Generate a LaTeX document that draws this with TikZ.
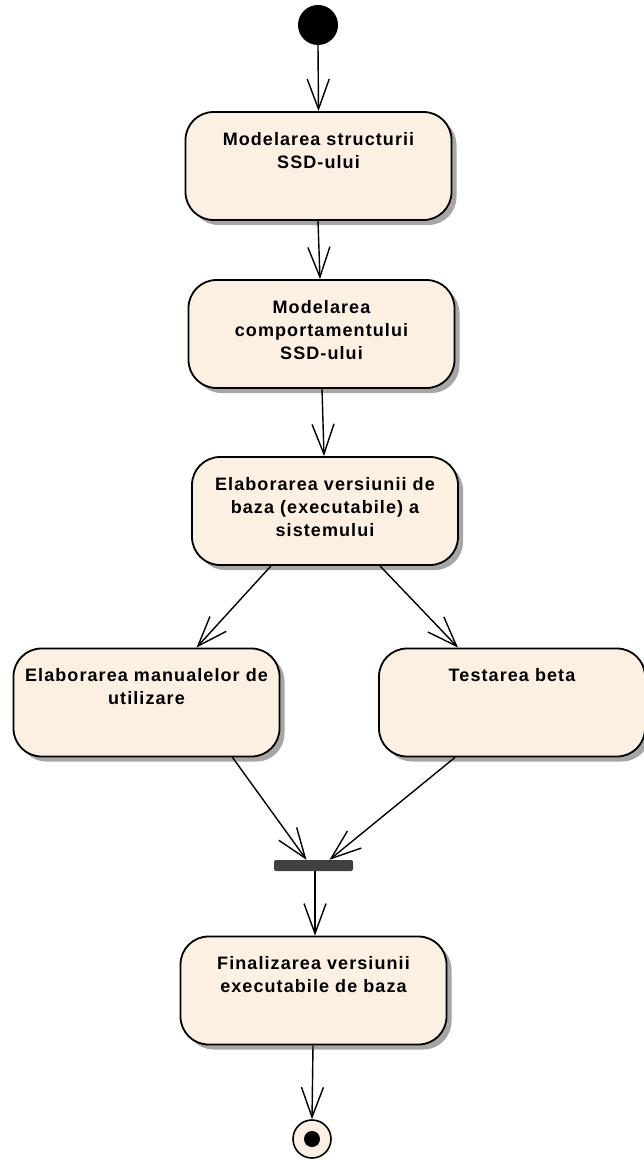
\documentclass[tikz,border=0pt]{standalone}
\usepackage{fontspec}
\newfontfamily\boxfont[LetterSpace=6]{Liberation Sans}
\usetikzlibrary{arrows.meta,shadows}
\definecolor{boxfill}{HTML}{FBF0E2}
\begin{document}
\begin{tikzpicture}[x=1pt,y=-1pt,
  actbox/.style={draw=black,line width=1.8pt,fill=boxfill,rounded corners=28pt,
    minimum width=266pt,minimum height=108pt,inner sep=0pt,
    drop shadow={shadow xshift=5pt,shadow yshift=-5pt,fill=black,opacity=0.35}},
  lbl/.style={anchor=north,align=center,inner sep=0pt,
    font=\boxfont\bfseries\fontsize{18pt}{23pt}\selectfont},
  flow/.style={draw=black,line width=1.4pt,-{Straight Barb[length=30pt,width=22pt,line width=1.4pt]}}
]
\useasboundingbox (0,0) rectangle (644,1161);
% start
\node[circle,fill=black,minimum size=40pt,inner sep=0pt] (start) at (318,25) {};
% boxes
\node[actbox] (b1) at (318.5,166) {};
\node[lbl] (t1) at ([yshift=-21pt]b1.north) {Modelarea structurii\\SSD-ului};
\node[actbox] (b2) at (321.5,334) {};
\node[lbl] (t2) at ([yshift=-21pt]b2.north) {Modelarea\\comportamentului\\SSD-ului};
\node[actbox] (b3) at (325,511) {};
\node[lbl] (t3) at ([yshift=-21pt]b3.north) {Elaborarea versiunii de\\baza (executabile) a\\sistemului};
\node[actbox] (b4) at (146.5,702.5) {};
\node[lbl] (t4) at ([yshift=-21pt]b4.north) {Elaborarea manualelor de\\utilizare};
\node[actbox] (b5) at (512,702.5) {};
\node[lbl] (t5) at ([yshift=-21pt]b5.north) {Testarea beta};
\node[actbox] (b6) at (313.5,990.5) {};
\node[lbl] (t6) at ([yshift=-21pt]b6.north) {Finalizarea versiunii\\executabile de baza};
% fork bar
\node[fill=black!75,rounded corners=2pt,minimum width=79pt,minimum height=11pt,inner sep=0pt] (fork) at (313.5,865.5) {};
% end
\node[circle,draw=black,line width=1.6pt,fill=boxfill,minimum size=38pt,inner sep=0pt] (end) at (312,1139) {};
\node[circle,fill=black,minimum size=16pt,inner sep=0pt] (enddot) at (end.center) {};
% flows
\draw[flow] (start.south) -- (b1.north);
\draw[flow] ([xshift=-0.5pt]b1.south) -- ([xshift=-1.5pt]b2.north);
\draw[flow] ([xshift=0.5pt]b2.south) -- ([xshift=-1pt]b3.north);
\draw[flow] ([xshift=-54pt]b3.south) -- ([xshift=50pt]b4.north);
\draw[flow] ([xshift=55pt]b3.south) -- ([xshift=-54pt]b5.north);
\draw[flow] ([xshift=86pt]b4.south) -- ([xshift=-7pt]fork.north);
\draw[flow] ([xshift=-57pt]b5.south) -- ([xshift=16pt]fork.north);
\draw[flow] ([xshift=1.5pt]fork.south) -- ([xshift=1.5pt]b6.north);
\draw[flow] ([xshift=-0.5pt]b6.south) -- (end.north);
\end{tikzpicture}
\end{document}
